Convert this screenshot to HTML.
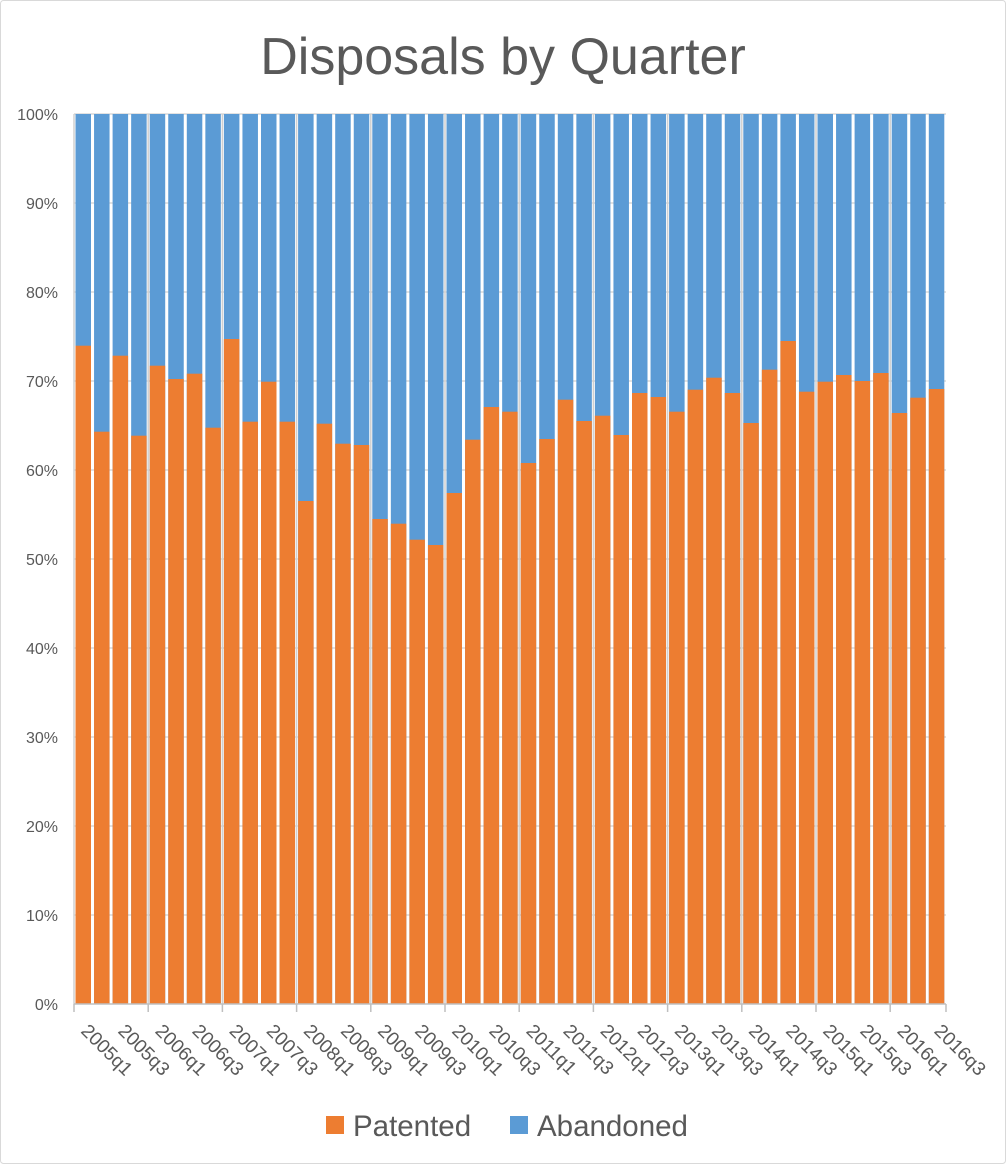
<!DOCTYPE html>
<html><head><meta charset="utf-8"><style>
html,body{margin:0;padding:0;background:#fff}
svg{display:block}
text{font-family:"Liberation Sans",sans-serif;fill:#595959}
</style></head><body>
<svg width="1007" height="1165" viewBox="0 0 1007 1165" xmlns="http://www.w3.org/2000/svg">
<rect x="0.5" y="0.5" width="1005" height="1163" rx="3" fill="#fff" stroke="#d9d9d9"/>
<text x="503" y="74" font-size="52" text-anchor="middle">Disposals by Quarter</text>
<g font-size="16" text-anchor="end">
<text x="58" y="1010">0%</text><text x="58" y="921">10%</text><text x="58" y="832">20%</text><text x="58" y="743">30%</text><text x="58" y="654">40%</text><text x="58" y="565">50%</text><text x="58" y="476">60%</text><text x="58" y="387">70%</text><text x="58" y="298">80%</text><text x="58" y="209">90%</text><text x="58" y="120">100%</text>
</g>
<g stroke="#d9d9d9" stroke-width="1.5">
<line x1="74" x2="946" y1="114" y2="114"/><line x1="74" x2="946" y1="203" y2="203"/><line x1="74" x2="946" y1="292" y2="292"/><line x1="74" x2="946" y1="381" y2="381"/><line x1="74" x2="946" y1="470" y2="470"/><line x1="74" x2="946" y1="559" y2="559"/><line x1="74" x2="946" y1="648" y2="648"/><line x1="74" x2="946" y1="737" y2="737"/><line x1="74" x2="946" y1="826" y2="826"/><line x1="74" x2="946" y1="915" y2="915"/>
</g>
<g stroke="#d0d0d0" stroke-width="1.5">
<line x1="74" x2="74" y1="114" y2="1004"/><line x1="148.2" x2="148.2" y1="114" y2="1004"/><line x1="222.4" x2="222.4" y1="114" y2="1004"/><line x1="296.6" x2="296.6" y1="114" y2="1004"/><line x1="370.8" x2="370.8" y1="114" y2="1004"/><line x1="445" x2="445" y1="114" y2="1004"/><line x1="519.2" x2="519.2" y1="114" y2="1004"/><line x1="593.4" x2="593.4" y1="114" y2="1004"/><line x1="667.6" x2="667.6" y1="114" y2="1004"/><line x1="741.8" x2="741.8" y1="114" y2="1004"/><line x1="816" x2="816" y1="114" y2="1004"/><line x1="890.2" x2="890.2" y1="114" y2="1004"/>
</g>
<g fill="#5b9bd5">
<rect x="75.5" y="114" width="15.5" height="890"/><rect x="94.05" y="114" width="15.5" height="890"/><rect x="112.6" y="114" width="15.5" height="890"/><rect x="131.15" y="114" width="15.5" height="890"/><rect x="149.7" y="114" width="15.5" height="890"/><rect x="168.25" y="114" width="15.5" height="890"/><rect x="186.8" y="114" width="15.5" height="890"/><rect x="205.35" y="114" width="15.5" height="890"/><rect x="223.9" y="114" width="15.5" height="890"/><rect x="242.45" y="114" width="15.5" height="890"/><rect x="261" y="114" width="15.5" height="890"/><rect x="279.55" y="114" width="15.5" height="890"/><rect x="298.1" y="114" width="15.5" height="890"/><rect x="316.65" y="114" width="15.5" height="890"/><rect x="335.2" y="114" width="15.5" height="890"/><rect x="353.75" y="114" width="15.5" height="890"/><rect x="372.3" y="114" width="15.5" height="890"/><rect x="390.85" y="114" width="15.5" height="890"/><rect x="409.4" y="114" width="15.5" height="890"/><rect x="427.95" y="114" width="15.5" height="890"/><rect x="446.5" y="114" width="15.5" height="890"/><rect x="465.05" y="114" width="15.5" height="890"/><rect x="483.6" y="114" width="15.5" height="890"/><rect x="502.15" y="114" width="15.5" height="890"/><rect x="520.7" y="114" width="15.5" height="890"/><rect x="539.25" y="114" width="15.5" height="890"/><rect x="557.8" y="114" width="15.5" height="890"/><rect x="576.35" y="114" width="15.5" height="890"/><rect x="594.9" y="114" width="15.5" height="890"/><rect x="613.45" y="114" width="15.5" height="890"/><rect x="632" y="114" width="15.5" height="890"/><rect x="650.55" y="114" width="15.5" height="890"/><rect x="669.1" y="114" width="15.5" height="890"/><rect x="687.65" y="114" width="15.5" height="890"/><rect x="706.2" y="114" width="15.5" height="890"/><rect x="724.75" y="114" width="15.5" height="890"/><rect x="743.3" y="114" width="15.5" height="890"/><rect x="761.85" y="114" width="15.5" height="890"/><rect x="780.4" y="114" width="15.5" height="890"/><rect x="798.95" y="114" width="15.5" height="890"/><rect x="817.5" y="114" width="15.5" height="890"/><rect x="836.05" y="114" width="15.5" height="890"/><rect x="854.6" y="114" width="15.5" height="890"/><rect x="873.15" y="114" width="15.5" height="890"/><rect x="891.7" y="114" width="15.5" height="890"/><rect x="910.25" y="114" width="15.5" height="890"/><rect x="928.8" y="114" width="15.5" height="890"/>
</g>
<g fill="#ed7d31">
<rect x="75.5" y="345.7" width="15.5" height="658.3"/><rect x="94.05" y="431.7" width="15.5" height="572.3"/><rect x="112.6" y="355.7" width="15.5" height="648.3"/><rect x="131.15" y="435.7" width="15.5" height="568.3"/><rect x="149.7" y="365.7" width="15.5" height="638.3"/><rect x="168.25" y="379" width="15.5" height="625"/><rect x="186.8" y="373.7" width="15.5" height="630.3"/><rect x="205.35" y="427.7" width="15.5" height="576.3"/><rect x="223.9" y="339" width="15.5" height="665"/><rect x="242.45" y="421.7" width="15.5" height="582.3"/><rect x="261" y="381.7" width="15.5" height="622.3"/><rect x="279.55" y="421.7" width="15.5" height="582.3"/><rect x="298.1" y="501" width="15.5" height="503"/><rect x="316.65" y="423.7" width="15.5" height="580.3"/><rect x="335.2" y="443.7" width="15.5" height="560.3"/><rect x="353.75" y="445" width="15.5" height="559"/><rect x="372.3" y="519" width="15.5" height="485"/><rect x="390.85" y="523.7" width="15.5" height="480.3"/><rect x="409.4" y="539.7" width="15.5" height="464.3"/><rect x="427.95" y="545" width="15.5" height="459"/><rect x="446.5" y="493" width="15.5" height="511"/><rect x="465.05" y="439.7" width="15.5" height="564.3"/><rect x="483.6" y="407" width="15.5" height="597"/><rect x="502.15" y="411.7" width="15.5" height="592.3"/><rect x="520.7" y="463" width="15.5" height="541"/><rect x="539.25" y="439" width="15.5" height="565"/><rect x="557.8" y="399.7" width="15.5" height="604.3"/><rect x="576.35" y="421" width="15.5" height="583"/><rect x="594.9" y="415.7" width="15.5" height="588.3"/><rect x="613.45" y="435" width="15.5" height="569"/><rect x="632" y="393" width="15.5" height="611"/><rect x="650.55" y="397" width="15.5" height="607"/><rect x="669.1" y="411.7" width="15.5" height="592.3"/><rect x="687.65" y="389.7" width="15.5" height="614.3"/><rect x="706.2" y="377.7" width="15.5" height="626.3"/><rect x="724.75" y="393" width="15.5" height="611"/><rect x="743.3" y="423" width="15.5" height="581"/><rect x="761.85" y="369.7" width="15.5" height="634.3"/><rect x="780.4" y="341" width="15.5" height="663"/><rect x="798.95" y="391.7" width="15.5" height="612.3"/><rect x="817.5" y="381.7" width="15.5" height="622.3"/><rect x="836.05" y="375" width="15.5" height="629"/><rect x="854.6" y="381" width="15.5" height="623"/><rect x="873.15" y="373" width="15.5" height="631"/><rect x="891.7" y="413" width="15.5" height="591"/><rect x="910.25" y="397.7" width="15.5" height="606.3"/><rect x="928.8" y="389" width="15.5" height="615"/>
</g>
<g stroke="#bfbfbf" stroke-width="1.5">
<line x1="74" x2="946" y1="1004" y2="1004"/>
<line x1="74" x2="74" y1="1004" y2="1012"/><line x1="148.2" x2="148.2" y1="1004" y2="1012"/><line x1="222.4" x2="222.4" y1="1004" y2="1012"/><line x1="296.6" x2="296.6" y1="1004" y2="1012"/><line x1="370.8" x2="370.8" y1="1004" y2="1012"/><line x1="445" x2="445" y1="1004" y2="1012"/><line x1="519.2" x2="519.2" y1="1004" y2="1012"/><line x1="593.4" x2="593.4" y1="1004" y2="1012"/><line x1="667.6" x2="667.6" y1="1004" y2="1012"/><line x1="741.8" x2="741.8" y1="1004" y2="1012"/><line x1="816" x2="816" y1="1004" y2="1012"/><line x1="890.2" x2="890.2" y1="1004" y2="1012"/><line x1="946" x2="946" y1="1004" y2="1012"/>
</g>
<g font-size="19">
<text transform="translate(80,1032) rotate(45)">2005q1</text>
<text transform="translate(117.1,1032) rotate(45)">2005q3</text>
<text transform="translate(154.2,1032) rotate(45)">2006q1</text>
<text transform="translate(191.3,1032) rotate(45)">2006q3</text>
<text transform="translate(228.4,1032) rotate(45)">2007q1</text>
<text transform="translate(265.5,1032) rotate(45)">2007q3</text>
<text transform="translate(302.6,1032) rotate(45)">2008q1</text>
<text transform="translate(339.7,1032) rotate(45)">2008q3</text>
<text transform="translate(376.8,1032) rotate(45)">2009q1</text>
<text transform="translate(413.9,1032) rotate(45)">2009q3</text>
<text transform="translate(451,1032) rotate(45)">2010q1</text>
<text transform="translate(488.1,1032) rotate(45)">2010q3</text>
<text transform="translate(525.2,1032) rotate(45)">2011q1</text>
<text transform="translate(562.3,1032) rotate(45)">2011q3</text>
<text transform="translate(599.4,1032) rotate(45)">2012q1</text>
<text transform="translate(636.5,1032) rotate(45)">2012q3</text>
<text transform="translate(673.6,1032) rotate(45)">2013q1</text>
<text transform="translate(710.7,1032) rotate(45)">2013q3</text>
<text transform="translate(747.8,1032) rotate(45)">2014q1</text>
<text transform="translate(784.9,1032) rotate(45)">2014q3</text>
<text transform="translate(822,1032) rotate(45)">2015q1</text>
<text transform="translate(859.1,1032) rotate(45)">2015q3</text>
<text transform="translate(896.2,1032) rotate(45)">2016q1</text>
<text transform="translate(933.3,1032) rotate(45)">2016q3</text>
</g>
<rect x="326" y="1116" width="18" height="18" fill="#ed7d31"/>
<text x="353" y="1136" font-size="29.5">Patented</text>
<rect x="510" y="1116" width="18" height="18" fill="#5b9bd5"/>
<text x="537" y="1136" font-size="29.5">Abandoned</text>
</svg>
</body></html>
